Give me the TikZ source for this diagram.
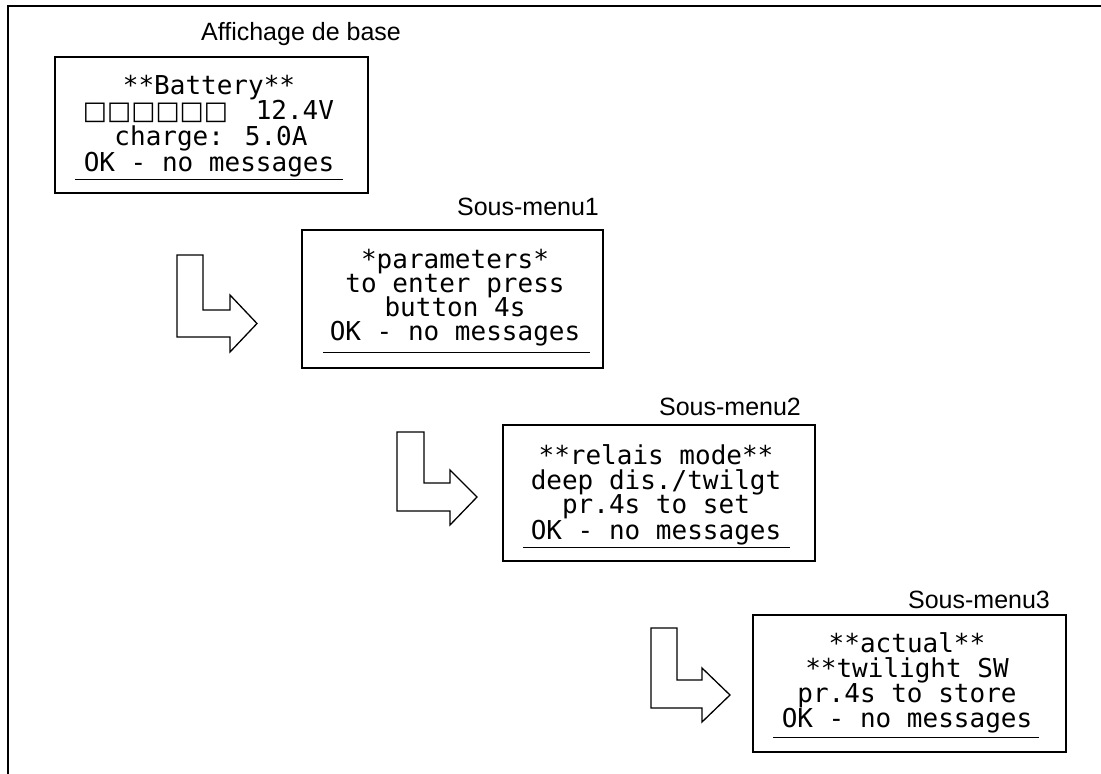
\documentclass[tikz,border=0pt]{standalone}
\usepackage{fontspec}
\setmainfont{Liberation Sans}
\newfontfamily\lcdfont{DejaVu Sans Mono}
\newfontfamily\sqfont{DejaVu Sans}
\begin{document}
\begin{tikzpicture}[x=1pt,y=-1pt,
  screen/.style={draw, line width=1.3pt, inner sep=0pt},
  lcd/.style={font=\lcdfont\fontsize{26}{26}\selectfont, anchor=base, inner sep=0pt},
  title/.style={font=\fontsize{25}{25}\selectfont, anchor=base, inner sep=0pt},
  blockarrow/.style={draw, line width=1.3pt, fill=white, line join=miter},
  uline/.style={line width=1pt}]
\useasboundingbox (0,0) rectangle (1101,774);
% outer frame (cut off at right and bottom)
\draw[line width=2pt] (1101,6) -- (8,6) -- (8,774);

% titles
\node[title] (t0) at (301,40) {Affichage de base};
\node[title] (t1) at (528,215) {Sous-menu1};
\node[title] (t2) at (730,415) {Sous-menu2};
\node[title] (t3) at (979,608) {Sous-menu3};

% screens
\node[screen, minimum width=313pt, minimum height=136pt] (s0) at (211.5,125) {};
\node[screen, minimum width=301pt, minimum height=138pt] (s1) at (452.5,299) {};
\node[screen, minimum width=312pt, minimum height=136pt] (s2) at (659,493) {};
\node[screen, minimum width=313pt, minimum height=137pt] (s3) at (909.5,683.5) {};

% screen 0 text
\node[lcd] (l01) at (209,94) {**Battery**};
\node[lcd] (l02) at (208.5,119.5) {{\sqfont\fontsize{25.6}{26}\selectfont □□□□□□}\hspace{12pt} 12.4V};
\node[lcd] (l03) at (211,145) {charge: 5.0A};
\node[lcd] (l04) at (209,171) {OK - no messages};
\coordinate (u0a) at (75,179); \coordinate (u0b) at (343,179);
\draw[uline] (u0a) -- (u0b);

% screen 1 text
\node[lcd] (l11) at (455,268) {*parameters*};
\node[lcd] (l12) at (455,292) {to enter press};
\node[lcd] (l13) at (455,316) {button 4s};
\node[lcd] (l14) at (455,340) {OK - no messages};
\coordinate (u1a) at (323,352); \coordinate (u1b) at (590,352);
\draw[uline] (u1a) -- (u1b);

% screen 2 text
\node[lcd] (l21) at (656,464) {**relais mode**};
\node[lcd] (l22) at (656,489) {deep dis./twilgt};
\node[lcd] (l23) at (656,513) {pr.4s to set};
\node[lcd] (l24) at (656,539) {OK - no messages};
\coordinate (u2a) at (523,547); \coordinate (u2b) at (790,547);
\draw[uline] (u2a) -- (u2b);

% screen 3 text
\node[lcd] (l31) at (907,652) {**actual**};
\node[lcd] (l32) at (907,677) {**twilight SW};
\node[lcd] (l33) at (907,702) {pr.4s to store};
\node[lcd] (l34) at (907,727) {OK - no messages};
\coordinate (u3a) at (773,737); \coordinate (u3b) at (1039,737);
\draw[uline] (u3a) -- (u3b);

% block arrows
\draw[blockarrow] (177,255) -- (203,255) -- (203,310) -- (230,310) -- (230,295)
  -- (257,323.5) -- (230,352) -- (230,337) -- (177,337) -- cycle;
\draw[blockarrow] (397,432) -- (424,432) -- (424,483) -- (450,483) -- (450,470)
  -- (477,497) -- (450,525) -- (450,511) -- (397,511) -- cycle;
\draw[blockarrow] (651,628) -- (677,628) -- (677,680) -- (702,680) -- (702,668)
  -- (730,695) -- (702,722) -- (702,708) -- (651,708) -- cycle;
\end{tikzpicture}
\end{document}
